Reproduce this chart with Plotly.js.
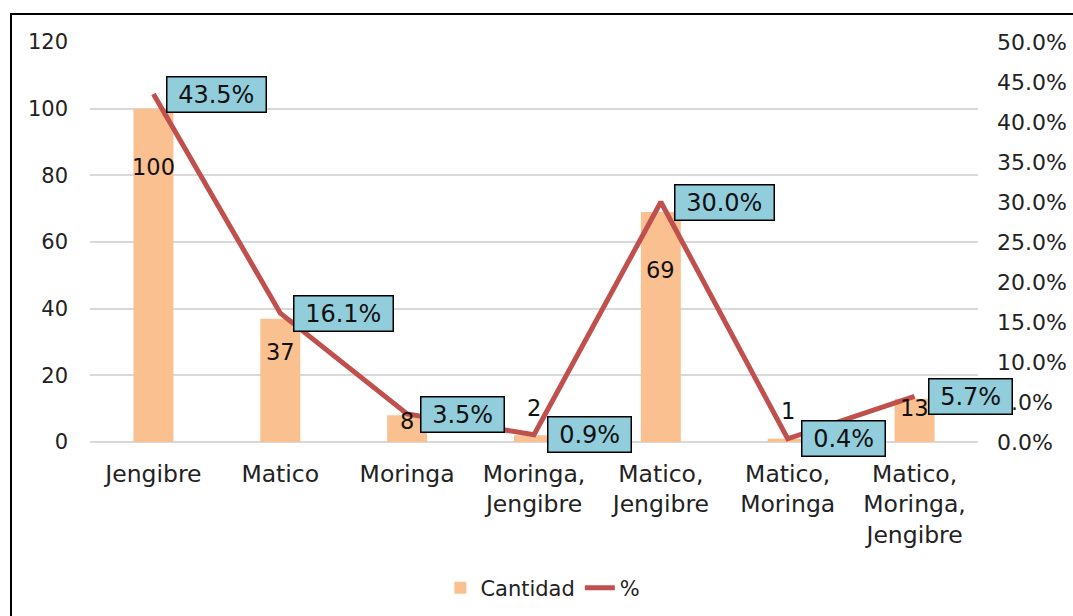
<!DOCTYPE html>
<html>
<head>
<meta charset="utf-8">
<script src="https://cdn.plot.ly/plotly-3.0.1.min.js"></script>
<style>
html,body{margin:0;padding:0;background:#fff;}
#wrap{position:relative;width:1073px;height:616px;overflow:hidden;}
#chart{width:1073px;height:616px;}
#frame{position:absolute;left:10px;top:13px;width:1100px;height:700px;border:2px solid #000;box-sizing:border-box;pointer-events:none;}
</style>
</head>
<body>
<div id="wrap"><div id="chart"></div><div id="frame"></div></div>
<script>
// Data
const categories = ["Jengibre", "Matico", "Moringa", "Moringa,<br>Jengibre", "Matico,<br>Jengibre", "Matico,<br>Moringa", "Matico,<br>Moringa,<br>Jengibre"];
const cantidad = [100, 37, 8, 2, 69, 1, 13];
const porcentaje = [0.435, 0.161, 0.035, 0.009, 0.300, 0.004, 0.057];
const pctLabels = ["43.5%", "16.1%", "3.5%", "0.9%", "30.0%", "0.4%", "5.7%"];

// Styling (label offsets in px)
const countLabelShift = [-58, -33, -6, 27, -58, 28, -9];
const FONT = "DejaVu Sans, Verdana, sans-serif";
const NB = "\u00A0";

const xs = categories.map((c, i) => i);

const traces = [
  {
    type: "bar", name: "Cantidad", x: xs, y: cantidad,
    marker: {color: "#FAC090"}, width: 0.315, yaxis: "y",
    hoverinfo: "skip"
  },
  {
    type: "scatter", mode: "lines", name: "%", x: xs, y: porcentaje,
    line: {color: "#C0504D", width: 5}, yaxis: "y2",
    hoverinfo: "skip"
  }
];

const annotations = [];
xs.forEach((x, i) => {
  annotations.push({
    x: x, y: cantidad[i], xref: "x", yref: "y", text: String(cantidad[i]),
    showarrow: false, yshift: countLabelShift[i], xanchor: "center", yanchor: "middle",
    font: {family: FONT, size: 22.5, color: "#111"}
  });
  annotations.push({
    x: x, y: porcentaje[i], xref: "x", yref: "y2", text: NB + pctLabels[i] + NB,
    showarrow: false, xanchor: "left", yanchor: "middle", xshift: 13,
    bgcolor: "#92CDDC", bordercolor: "#000", borderwidth: 1.5, borderpad: 3,
    font: {family: FONT, size: 24, color: "#111"}
  });
});

const layout = {
  width: 1073, height: 616,
  margin: {l: 89.5, r: 94.5, t: 42, b: 174, autoexpand: false},
  paper_bgcolor: "#fff", plot_bgcolor: "#fff",
  font: {family: FONT, size: 22, color: "#222"},
  showlegend: true,
  legend: {orientation: "h", x: 0.51, xanchor: "center", y: -0.365, yanchor: "middle",
           font: {family: FONT, size: 21, color: "#222"}, tracegroupgap: 0},
  xaxis: {
    range: [-0.5, 6.5], tickmode: "array", tickvals: xs, ticktext: categories,
    showgrid: false, zeroline: false, showline: false, ticks: "", automargin: false,
    tickfont: {family: FONT, size: 23.5, color: "#222"}, ticklabelstandoff: 15, fixedrange: true
  },
  yaxis: {
    range: [0, 120], dtick: 20, showgrid: true, gridcolor: "#D9D9D9", gridwidth: 2,
    zeroline: true, zerolinecolor: "#D9D9D9", zerolinewidth: 2, showline: false, ticks: "", automargin: false,
    tickfont: {family: FONT, size: 21, color: "#222"}, ticklabelstandoff: 21, fixedrange: true
  },
  yaxis2: {
    overlaying: "y", side: "right", range: [0, 0.5], dtick: 0.05, tickformat: ".1%",
    showgrid: false, zeroline: false, showline: false, ticks: "", automargin: false,
    tickfont: {family: FONT, size: 22, color: "#222"}, ticklabelstandoff: 18, fixedrange: true
  },
  annotations: annotations
};

Plotly.newPlot("chart", traces, layout, {displayModeBar: false, staticPlot: true});
</script>
</body>
</html>
